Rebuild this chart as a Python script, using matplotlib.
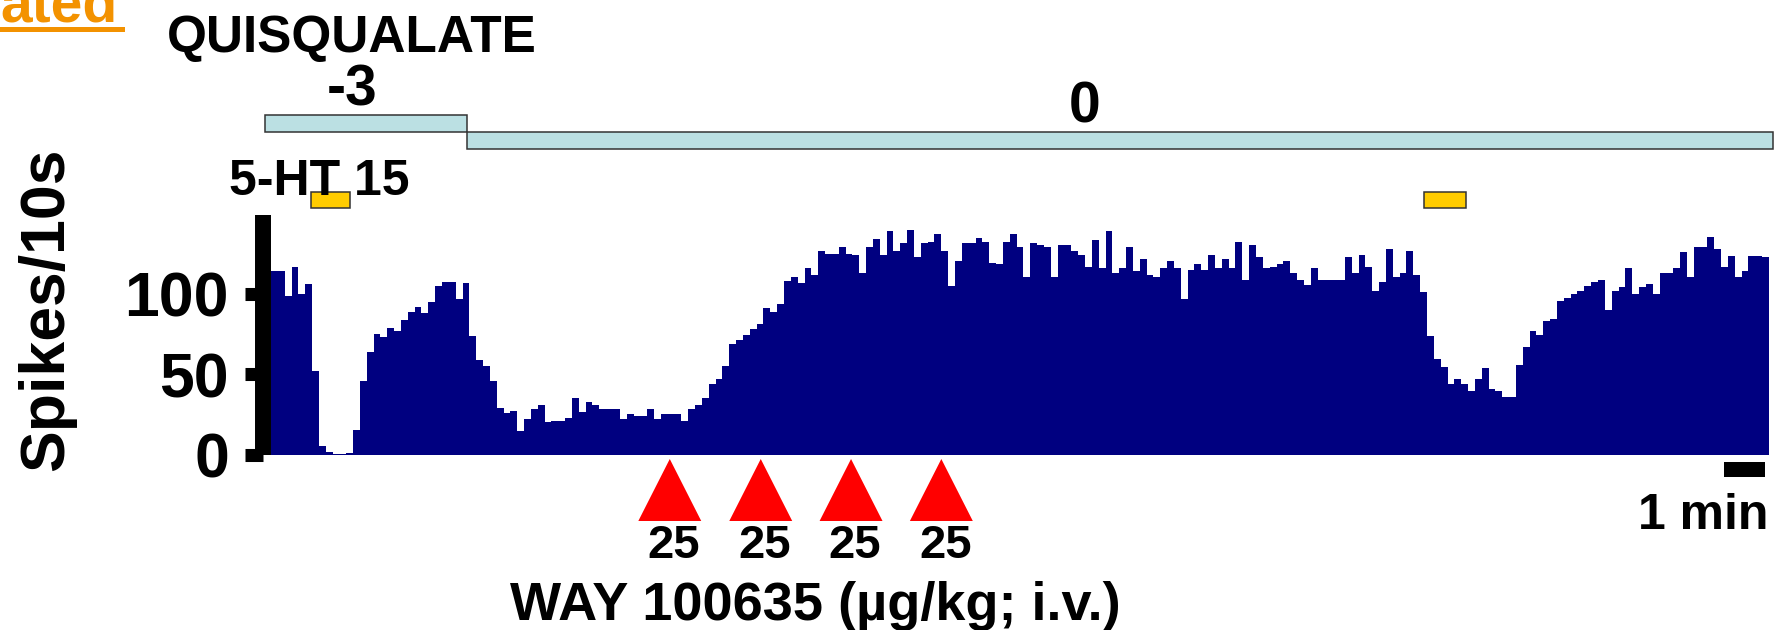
import numpy as np
import matplotlib.pyplot as plt
from matplotlib.patches import Rectangle, Polygon
from matplotlib.lines import Line2D

plt.rcParams['font.family'] = ['Liberation Sans', 'DejaVu Sans']
plt.rcParams['font.weight'] = 'bold'

# firing rate, spikes per 10 s bin
spikes = [114, 114, 99, 117, 100, 106, 52, 5.5, 1.5, 0.5, 0.5, 1, 15, 46, 64, 75, 73, 79, 77, 84,
          88.5, 92, 88, 95, 105, 107.6, 107.6, 97, 107, 74, 59, 55, 46, 29, 26,
          27, 14.6, 22, 28.5, 30.6, 20, 21, 21, 23, 35, 26.5, 33, 31, 28.5, 28.5,
          28.5, 22, 25, 24, 24, 28.5, 22, 25, 25, 25, 21, 28.5, 30.6, 35, 44,
          47, 55, 69, 71, 74.6, 78, 81, 91, 89, 94, 108, 110.5, 107, 116, 112,
          127, 125, 125, 129, 125, 124, 113, 129, 134, 124, 139, 127, 131.5, 140, 123,
          131.5, 132.5, 137, 127, 105, 120.5, 131.5, 131.5, 134.6, 132.5, 119.5,
          118.4, 132.5, 137, 129, 110.7, 131.5, 130.5, 129, 110.7, 130.5, 130.5, 127, 124, 117,
          133.6, 116, 139, 113, 116, 129, 114, 121.5, 112, 110.7, 116, 120.5, 116, 96.6,
          115, 118.4, 115, 124, 116, 121.5, 116, 132.5, 108.6, 130.5, 123, 116, 117, 118.4,
          120.5, 113, 108.6, 105.3, 116, 108.6, 108.6, 108.6, 108.6, 123, 113, 124, 117, 102,
          107.4, 128, 110.7, 113, 127, 112, 101, 73.6, 59.3, 54.7, 44, 47, 44, 39.5, 47,
          53.6, 40.5, 39.5, 36, 36, 56, 67, 76.6, 74.6, 83.3, 84.4, 95.4, 97.7, 99.7,
          102, 105, 107.4, 108.4, 90, 102, 104, 116, 99.7, 104, 106, 99.7, 112.8, 112.8,
          116, 126, 110.7, 129, 129, 135.6, 128, 117, 123.8, 110.7, 114, 123.8, 123.8, 122.8]
bins = np.arange(len(spikes) + 1)

# quisqualate ejection current (nA), in bins
quis_start = [-0.9, 28.65]
quis_end = [28.65, 219.6]
quis_label = ["-3", "0"]
quis_label_x = [11.8, 119.0]

# 5-HT ejections (15 nA), in bins
ht_start = [5.85, 168.6]
ht_end = [11.55, 174.7]

# WAY 100635 i.v. injections
way_time = [58.3, 71.6, 84.8, 98.0]
way_dose = [25, 25, 25, 25]

fig = plt.figure(figsize=(17.76, 6.3), dpi=100)
ax = fig.add_axes([271 / 1776, 0.27857, 1498 / 1776, 0.38238])
ax.stairs(spikes, bins, fill=True, color='#000080', baseline=0)
ax.set_xlim(0, len(spikes))
ax.set_ylim(0, 150)

for s in ['top', 'right', 'bottom']:
    ax.spines[s].set_visible(False)
ax.spines['left'].set_position(('outward', 5.76))
ax.spines['left'].set_linewidth(11.5)
ax.spines['left'].set_bounds(0, 149)
ax.spines['left'].set_capstyle('butt')
ax.set_xticks([])
ax.set_yticks([0, 50, 100])
ax.tick_params(axis='y', length=13, width=9.4, pad=11.5, labelsize=45)

fig.text(63 / 1776, 1 - 309 / 630, "Spikes/10s", rotation=90, rotation_mode='anchor',
         ha='center', va='baseline', fontsize=45)

# quisqualate
ax.text(quis_label_x[0], 250.6, "QUISQUALATE", ha='center', va='baseline', fontsize=37)
for s, e, lab, lx, y0 in zip(quis_start, quis_end, quis_label, quis_label_x, [200.8, 190.2]):
    ax.add_patch(Rectangle((s, y0), e - s, 10.4, facecolor='#BBE0E3', edgecolor='#333333',
                           lw=1.1, clip_on=False))
    ax.text(lx, y0 + 16.5, lab, ha='center', va='baseline', fontsize=41)

# 5-HT
ax.text(-6.1, 161.6, "5-HT 15", ha='left', va='baseline', fontsize=36)
for s, e in zip(ht_start, ht_end):
    ax.add_patch(Rectangle((s, 153.4), e - s, 9.9, facecolor='#FFCC00', edgecolor='#333333',
                           lw=1.1, clip_on=False))

# WAY 100635 injections
for t, d in zip(way_time, way_dose):
    ax.add_patch(Polygon([(t - 4.6, -41.4), (t + 4.6, -41.4), (t, -2.8)], closed=True,
                         facecolor='#FF0000', edgecolor='none', clip_on=False))
    ax.text(t + 0.6, -64.4, str(d), ha='center', va='baseline', fontsize=34)
ax.text(79.6, -103, "WAY 100635 (µg/kg; i.v.)", ha='center', va='baseline', fontsize=39)

# 1 min scale bar (6 bins of 10 s)
ax.add_patch(Rectangle((len(spikes) - 6.6, -14), 6, 9.3, facecolor='black', clip_on=False))
ax.text(len(spikes) - 0.1, -46.4, "1 min", ha='right', va='baseline', fontsize=36)

# cropped slide title remnant (cut by the top edge, as in the original slide)
fig.text(118 / 1776, 1 - 21 / 630, "ated", ha='right', va='baseline', color='#F39200', fontsize=41)
fig.add_artist(Line2D([0, 122 / 1776], [1 - 29 / 630] * 2, color='#F39200', lw=3.6))

fig.savefig("out.png", dpi=100)
